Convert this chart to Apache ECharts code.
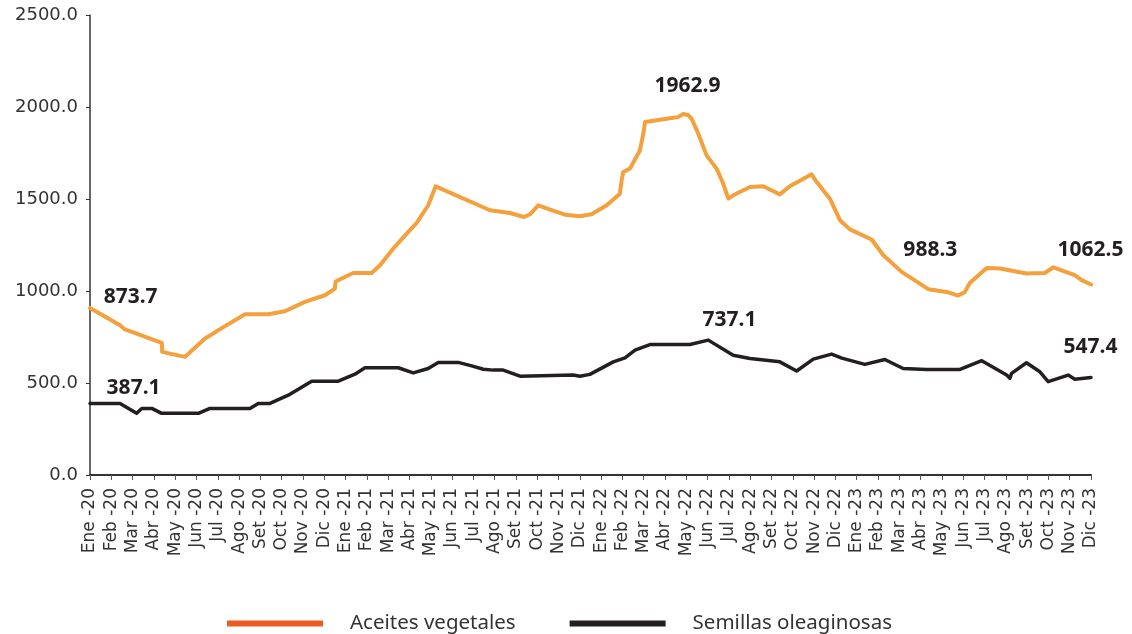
<!DOCTYPE html>
<html>
<head>
<meta charset="utf-8">
<script src="https://cdn.jsdelivr.net/npm/echarts@6/dist/echarts.min.js"></script>
<style>
html,body{margin:0;padding:0;background:#fff;}
#chart{width:1132px;height:634px;}
</style>
</head>
<body>
<div id="chart"></div>
<script>
// Tick labels
const monthNames = ['Ene','Feb','Mar','Abr','May','Jun','Jul','Ago','Set','Oct','Nov','Dic'];
const years = ['20','21','22','23'];
const yTicks = [0, 500, 1000, 1500, 2000, 2500];

// Series: position in months since Ene-20, value
const aceitesX = [0,1.41,1.64,3.37,3.39,4.46,5.40,6.34,7.28,8.37,9.15,10.09,11.03,11.50,11.53,12.36,13.22,13.62,14.24,14.87,15.34,15.88,16.23,18.78,19.72,20.38,20.66,21.05,21.6,22.30,23.0,23.55,24.26,24.88,24.96,25.04,25.35,25.82,25.98,26.06,27.39,27.60,27.85,28.10,28.25,28.56,28.95,29.42,29.73,29.97,30.2,30.99,31.61,32.39,32.86,33.88,34.12,34.74,35.21,35.68,36.7,37.25,38.11,39.36,40.22,40.77,41.08,41.31,42.10,42.72,43.97,44.84,45.23,46.24,46.56,47.0];
const aceitesY = [908,814,791,718,669,642,742,809,874,874,890,941,977,1013,1052,1098,1098,1140,1231,1312,1370,1466,1569,1439,1424,1402,1417,1466,1442,1415,1406,1417,1466,1529,1601,1647,1665,1764,1855,1918,1942,1945,1962,1955,1936,1855,1737,1665,1584,1502,1520,1565,1569,1525,1569,1634,1592,1502,1385,1335,1280,1194,1104,1010,995,975,995,1044,1125,1122,1095,1098,1129,1086,1059,1035];

const semillasX = [0,1.41,2.19,2.43,2.9,3.37,5.09,5.63,7.51,7.9,8.45,9.31,10.41,11.66,12.44,12.91,14.47,15.18,15.88,16.35,17.29,17.92,18.47,18.93,19.40,20.19,22.69,23.0,23.47,24.57,25.12,25.59,26.29,28.17,29.03,30.2,30.99,32.39,33.18,33.96,34.82,35.3,36.38,37.32,38.18,39.28,40.85,41.87,43.04,43.19,43.27,43.97,44.6,44.99,45.93,46.24,47.0];
const semillasY = [389,389,335,362,362,335,335,362,362,389,389,434,510,510,548,583,583,555,579,612,612,593,575,570,570,537,543,537,547,615,637,679,709,709,733,651,633,615,565,630,657,635,601,628,579,574,574,621,543,525,552,610,561,507,543,521,530];

// Annotations (text, month position, value position)
const annotText = ['873.7','387.1','1962.9','737.1','988.3','1062.5','547.4'];
const annotX = [1.93, 2.07, 28.08, 30.05, 39.48, 47, 47];
const annotY = [966, 472, 2112, 842, 1222, 1222, 695];

const xLabels = [];
years.forEach(y => monthNames.forEach(m => xLabels.push(m + ' -' + y)));

const zip = (xs, ys) => xs.map((x, i) => [x, ys[i]]);

const chart = echarts.init(document.getElementById('chart'));
chart.setOption({
  animation: false,
  grid: {left: 90, right: 41, top: 15, bottom: 159},
  xAxis: {
    type: 'value', min: 0, max: xLabels.length - 1, interval: 1,
    axisLine: {lineStyle: {color: '#333', width: 2}},
    axisTick: {show: true, length: 5, lineStyle: {color: '#555', width: 1}},
    splitLine: {show: false},
    axisLabel: {
      rotate: 90, margin: 13, fontFamily: 'DejaVu Sans', fontSize: 17, color: '#333',
      formatter: v => xLabels[Math.round(v)] || ''
    }
  },
  yAxis: {
    type: 'value', min: yTicks[0], max: yTicks[yTicks.length - 1], interval: 500,
    axisLine: {show: true, lineStyle: {color: '#333', width: 1.5}},
    axisTick: {show: true, length: 4, lineStyle: {color: '#333'}},
    splitLine: {show: false},
    axisLabel: {margin: 12, fontFamily: 'DejaVu Sans', fontSize: 18, color: '#333', formatter: v => v.toFixed(1)}
  },
  legend: {
    top: 608, left: 222, icon: 'rect', itemWidth: 96, itemHeight: 6, itemGap: 54,
    textStyle: {fontFamily: 'Noto Sans', fontSize: 20.5, color: '#333', padding: [0, 0, 0, 22]},
    data: [
      {name: 'Aceites vegetales', itemStyle: {color: '#ee5a24'}},
      {name: 'Semillas oleaginosas', itemStyle: {color: '#231f20'}}
    ]
  },
  series: [
    {
      name: 'Aceites vegetales', type: 'line', data: zip(aceitesX, aceitesY),
      showSymbol: false, symbol: 'none',
      lineStyle: {color: '#f4a03c', width: 4, join: 'round', cap: 'round'},
      itemStyle: {color: '#f4a03c'}
    },
    {
      name: 'Semillas oleaginosas', type: 'line', data: zip(semillasX, semillasY),
      showSymbol: false, symbol: 'none',
      lineStyle: {color: '#231f20', width: 3.5, join: 'round', cap: 'round'},
      itemStyle: {color: '#231f20'}
    },
    {
      name: 'annot', type: 'scatter', symbolSize: 1, silent: true, clip: false,
      itemStyle: {opacity: 0, color: '#fff'},
      data: annotX.map((x, i) => ({value: [x, annotY[i]], name: annotText[i]})),
      label: {
        show: true, position: [0, 0], align: 'center', verticalAlign: 'middle',
        formatter: p => p.name, opacity: 1,
        fontFamily: 'Noto Sans', fontWeight: 'bold', fontSize: 21, color: '#231f20'
      }
    }
  ]
});
</script>
</body>
</html>
